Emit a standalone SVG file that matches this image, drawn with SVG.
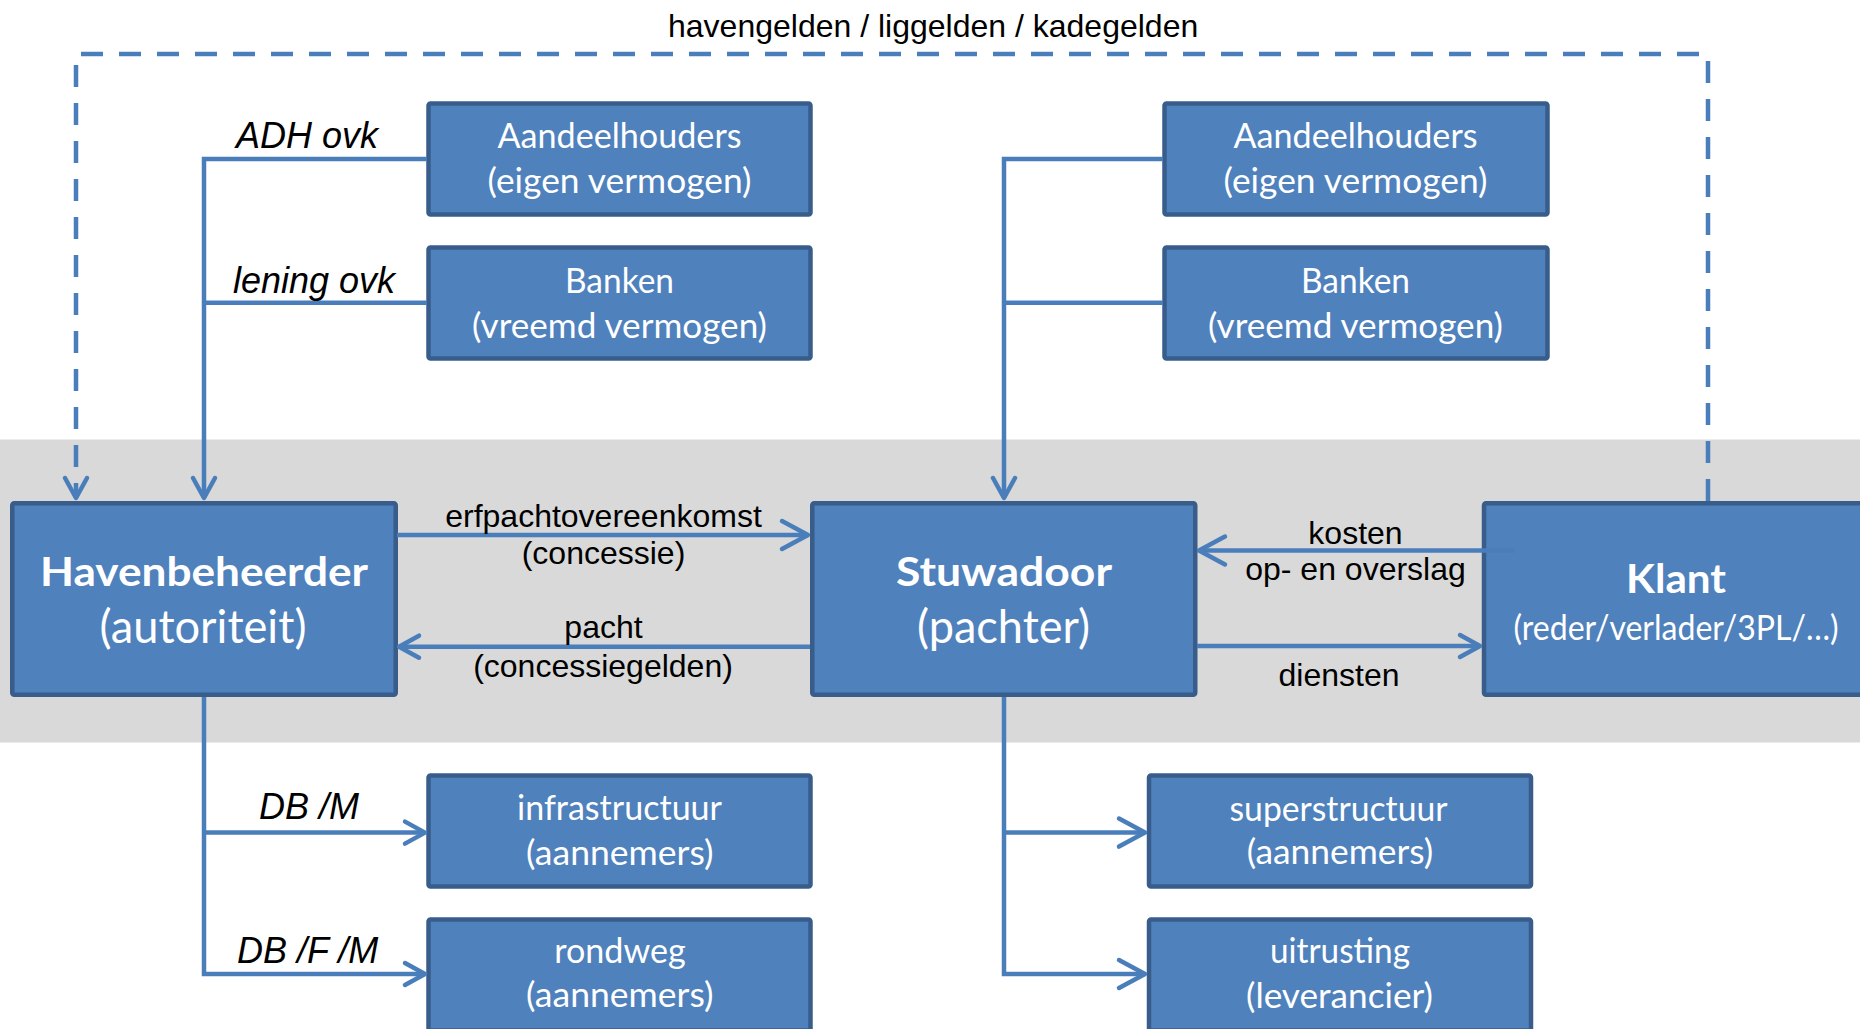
<svg xmlns="http://www.w3.org/2000/svg" width="1860" height="1029" viewBox="0 0 1860 1029">
<style>
.box{fill:#4f81bd;stroke:#385d8a;stroke-width:4.5}
.bt{fill:#ffffff;font-family:Lato,"Open Sans",sans-serif;text-anchor:middle}
.r{font-size:34px}
.h{font-size:41px;font-weight:bold}
.h2{font-size:46px}
.lbl{fill:#000000;font-family:"Liberation Sans",Arial,sans-serif;font-size:32px}
.it{fill:#000000;font-family:"Liberation Sans",Arial,sans-serif;font-size:36px;font-style:italic}
.c{fill:none;stroke:#4a7ebb;stroke-width:4.5}
.d{stroke-dasharray:22 16}
</style>
<defs>
<marker id="big" markerUnits="userSpaceOnUse" markerWidth="40" markerHeight="40" viewBox="-30 -20 40 40" refX="0" refY="0" orient="auto" overflow="visible">
<path d="M-26,-14 L0,0 L-26,14" fill="none" stroke="#4a7ebb" stroke-width="4.5" stroke-linecap="round" stroke-linejoin="round"/>
</marker>
<marker id="sm" markerUnits="userSpaceOnUse" markerWidth="40" markerHeight="40" viewBox="-30 -20 40 40" refX="0" refY="0" orient="auto" overflow="visible">
<path d="M-20,-11 L0,0 L-20,11" fill="none" stroke="#4a7ebb" stroke-width="4.5" stroke-linecap="round" stroke-linejoin="round" stroke-dasharray="none"/>
</marker>
</defs>
<rect x="0" y="0" width="1860" height="1029" fill="#ffffff"/>
<rect id="band" x="0" y="439.5" width="1860" height="303" fill="#d9d9d9"/>

<g id="aandeelhouders-l">
<rect class="box" x="428.5" y="103.5" width="382" height="111" rx="2"/>
<text class="bt r" x="619.5" y="148" textLength="244" lengthAdjust="spacingAndGlyphs">Aandeelhouders</text>
<text class="bt r" x="619.5" y="193" textLength="264" lengthAdjust="spacingAndGlyphs">(eigen vermogen)</text>
</g>
<g id="banken-l">
<rect class="box" x="428.5" y="247.5" width="382" height="111" rx="2"/>
<text class="bt r" x="619.5" y="293" textLength="109" lengthAdjust="spacingAndGlyphs">Banken</text>
<text class="bt r" x="619.5" y="337.5" textLength="295" lengthAdjust="spacingAndGlyphs">(vreemd vermogen)</text>
</g>
<g id="aandeelhouders-r">
<rect class="box" x="1164.5" y="103.5" width="383" height="111" rx="2"/>
<text class="bt r" x="1355.5" y="148" textLength="244" lengthAdjust="spacingAndGlyphs">Aandeelhouders</text>
<text class="bt r" x="1355.5" y="193" textLength="264" lengthAdjust="spacingAndGlyphs">(eigen vermogen)</text>
</g>
<g id="banken-r">
<rect class="box" x="1164.5" y="247.5" width="383" height="111" rx="2"/>
<text class="bt r" x="1355.5" y="293" textLength="109" lengthAdjust="spacingAndGlyphs">Banken</text>
<text class="bt r" x="1355.5" y="337.5" textLength="295" lengthAdjust="spacingAndGlyphs">(vreemd vermogen)</text>
</g>
<g id="havenbeheerder">
<rect class="box" x="12.25" y="503.25" width="383.5" height="191.5" rx="2"/>
<text class="bt h" x="204" y="585.5" textLength="328" lengthAdjust="spacingAndGlyphs">Havenbeheerder</text>
<text class="bt h2" x="203" y="643" textLength="207" lengthAdjust="spacingAndGlyphs">(autoriteit)</text>
</g>
<g id="stuwadoor">
<rect class="box" x="812.25" y="503.25" width="383" height="191.5" rx="2"/>
<text class="bt h" x="1004" y="586" textLength="216" lengthAdjust="spacingAndGlyphs">Stuwadoor</text>
<text class="bt h2" x="1003.5" y="643" textLength="173" lengthAdjust="spacingAndGlyphs">(pachter)</text>
</g>
<g id="klant">
<rect class="box" x="1484" y="503.25" width="500" height="191.5" rx="2"/>
<text class="bt h" x="1676" y="592.5" font-size="39" textLength="100" lengthAdjust="spacingAndGlyphs">Klant</text>
<text class="bt r" x="1676" y="639.5" textLength="325" lengthAdjust="spacingAndGlyphs">(reder/verlader/3PL/…)</text>
</g>
<g id="infrastructuur">
<rect class="box" x="428.5" y="775.5" width="382" height="111" rx="2"/>
<text class="bt r" x="619.5" y="820" textLength="205" lengthAdjust="spacingAndGlyphs">infrastructuur</text>
<text class="bt r" x="619.8" y="864.5" textLength="187.5" lengthAdjust="spacingAndGlyphs">(aannemers)</text>
</g>
<g id="rondweg">
<rect class="box" x="428.5" y="919.5" width="382" height="111" rx="2"/>
<text class="bt r" x="620" y="963" textLength="131.5" lengthAdjust="spacingAndGlyphs">rondweg</text>
<text class="bt r" x="619.8" y="1007" textLength="187.5" lengthAdjust="spacingAndGlyphs">(aannemers)</text>
</g>
<g id="superstructuur">
<rect class="box" x="1149" y="775.5" width="382" height="111" rx="2"/>
<text class="bt r" x="1338.5" y="821" textLength="218" lengthAdjust="spacingAndGlyphs">superstructuur</text>
<text class="bt r" x="1340" y="863.5" textLength="186.6" lengthAdjust="spacingAndGlyphs">(aannemers)</text>
</g>
<g id="uitrusting">
<rect class="box" x="1149" y="919.5" width="382" height="111" rx="2"/>
<text class="bt r" x="1340" y="963.3" textLength="140" lengthAdjust="spacingAndGlyphs">uitrusting</text>
<text class="bt r" x="1339.5" y="1008" textLength="187" lengthAdjust="spacingAndGlyphs">(leverancier)</text>
</g>

<g id="connectors">
<path class="c" d="M427,159 H204 V498" marker-end="url(#sm)"/>
<path class="c" d="M427,302.7 H204"/>
<path class="c" d="M1163,159 H1004 V498" marker-end="url(#sm)"/>
<path class="c" d="M1163,302.7 H1004"/>
<path class="c d" d="M1708,501 V54 H76 V498" marker-end="url(#sm)"/>
<path class="c" d="M397,535 H808" marker-end="url(#big)"/>
<path class="c" d="M810,646.7 H399" marker-end="url(#sm)"/>
<path class="c" d="M1515,550.5 H1199" marker-end="url(#big)"/>
<path class="c" d="M1197,646 H1480" marker-end="url(#sm)"/>
<path class="c" d="M204,697 V974 H425" marker-end="url(#sm)"/>
<path class="c" d="M204,832.6 H425" marker-end="url(#sm)"/>
<path class="c" d="M1004,697 V974 H1145" marker-end="url(#big)"/>
<path class="c" d="M1004,832.6 H1145" marker-end="url(#big)"/>
</g>

<g id="labels">
<text class="lbl" x="668" y="37">havengelden / liggelden / kadegelden</text>
<text class="it" x="236" y="148">ADH ovk</text>
<text class="it" x="233" y="292.5">lening ovk</text>
<text class="it" x="259" y="818.5">DB /M</text>
<text class="it" x="237" y="963">DB /F /M</text>
<text class="lbl" x="603.5" y="526.5" text-anchor="middle">erfpachtovereenkomst</text>
<text class="lbl" x="603.5" y="564" text-anchor="middle">(concessie)</text>
<text class="lbl" x="603.5" y="638" text-anchor="middle">pacht</text>
<text class="lbl" x="603" y="676.5" text-anchor="middle">(concessiegelden)</text>
<text class="lbl" x="1355.5" y="543.5" text-anchor="middle">kosten</text>
<text class="lbl" x="1355.5" y="580" text-anchor="middle">op- en overslag</text>
<text class="lbl" x="1339" y="686" text-anchor="middle">diensten</text>
</g>
</svg>
